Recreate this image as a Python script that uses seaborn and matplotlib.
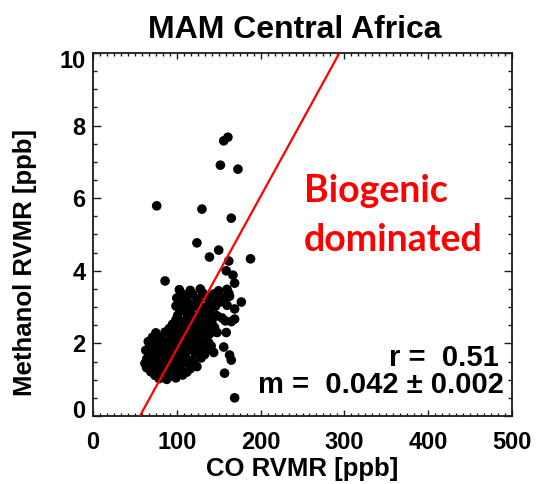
import numpy as np
import pandas as pd
import matplotlib
matplotlib.use("Agg")
import matplotlib.pyplot as plt
from matplotlib.ticker import MultipleLocator, FixedLocator
from matplotlib.transforms import ScaledTranslation
import seaborn as sns

# CO and methanol retrievals, MAM season, Central Africa
co_ppb = [
    # sparse points outside the main cloud
    161, 156, 152, 173, 76, 130, 165, 124, 150, 139, 188, 162, 86, 167, 169,
    99, 177, 169, 156, 163, 165, 157, 169, 159, 159, 154, 165, 169, 163, 152,
    148, 144, 142,
    # main cloud, bottom to top
    79, 88, 99,
    74, 85, 96, 107,
    69, 79, 90, 101, 112,
    64, 73, 84, 95, 104, 116, 124,
    62, 71, 82, 91, 101, 111, 120,
    64, 75, 86, 96, 107, 118, 129,
    67, 78, 89, 99, 110, 122, 133,
    63, 72, 83, 94, 104, 115, 126, 136,
    68, 78, 89, 100, 111, 121, 131, 141,
    66, 76, 86, 97, 108, 118, 128, 138,
    71, 81, 93, 104, 115, 125, 136,
    75, 86, 98, 109, 119, 130, 139,
    91, 102, 113, 123, 133, 145,
    95, 106, 117, 127, 138,
    99, 110, 121, 131, 142, 158,
    101, 113, 124, 135, 148,
    104, 116, 128, 140,
    108, 120, 132, 146, 160,
    103, 114, 126, 139, 151,
    100, 111, 124, 136, 148, 158,
    106, 119, 131, 144, 162,
    103, 116, 128, 150, 160,
]
methanol_ppb = [
    7.68, 7.58, 6.91, 6.80, 5.79, 5.70, 5.45, 4.77, 4.57, 4.38, 4.33, 4.27, 3.72, 3.88, 3.66,
    3.03, 3.14, 2.67, 1.90, 1.68, 1.54, 1.18, 0.50, 2.30, 4.00, 2.70, 2.60, 2.95, 3.30, 3.15,
    2.30, 1.75, 2.55,
    1.03, 1.01, 1.05,
    1.12, 1.14, 1.10, 1.13,
    1.22, 1.24, 1.20, 1.23, 1.21,
    1.33, 1.31, 1.35, 1.32, 1.34, 1.30, 1.36,
    1.45, 1.47, 1.43, 1.46, 1.44, 1.48, 1.45,
    1.57, 1.55, 1.59, 1.56, 1.58, 1.54, 1.60,
    1.69, 1.71, 1.67, 1.70, 1.68, 1.72, 1.69,
    1.81, 1.83, 1.79, 1.82, 1.80, 1.84, 1.81, 1.85,
    1.93, 1.91, 1.95, 1.92, 1.94, 1.90, 1.96, 1.93,
    2.05, 2.07, 2.03, 2.06, 2.04, 2.08, 2.05, 2.02,
    2.17, 2.15, 2.19, 2.16, 2.18, 2.14, 2.20,
    2.29, 2.31, 2.27, 2.30, 2.28, 2.32, 2.26,
    2.41, 2.39, 2.43, 2.40, 2.42, 2.44,
    2.53, 2.55, 2.51, 2.54, 2.52,
    2.65, 2.63, 2.67, 2.64, 2.66, 2.62,
    2.77, 2.79, 2.75, 2.78, 2.76,
    2.89, 2.87, 2.91, 2.88,
    3.01, 3.03, 2.99, 3.02, 3.05,
    3.13, 3.11, 3.15, 3.12, 3.14,
    3.25, 3.27, 3.23, 3.26, 3.24, 3.28,
    3.37, 3.35, 3.39, 3.36, 3.38,
    3.48, 3.46, 3.50, 3.45, 3.49,
]

# fit statistics
r_value = 0.51
slope = 0.042
slope_err = 0.002
intercept = -2.35

x_ticks = [0, 100, 200, 300, 400, 500]
y_ticks = [0, 2, 4, 6, 8, 10]

df = pd.DataFrame({"CO": co_ppb, "Methanol": methanol_ppb})

sns.set_theme(style="ticks")
plt.rcParams["font.family"] = ["Liberation Sans", "DejaVu Sans"]
plt.rcParams["font.weight"] = "bold"
for key in ("text.color", "axes.labelcolor", "xtick.color", "ytick.color"):
    plt.rcParams[key] = "black"

fig = plt.figure(figsize=(5.36, 4.84), dpi=100)
ax = fig.add_axes([93 / 536, 1 - 416 / 484, (512 - 93) / 536, (416 - 53) / 484])

sns.scatterplot(data=df, x="CO", y="Methanol", ax=ax, color="black",
                s=48, edgecolor="none", linewidth=0, legend=False, zorder=2)

ax.axline((0, intercept), slope=slope, color="#ff0000", lw=1.6, zorder=3)

ax.set_xlim(0, 500)
ax.set_ylim(0, 10)
ax.xaxis.set_major_locator(FixedLocator(x_ticks))
ax.yaxis.set_major_locator(FixedLocator(y_ticks))
ax.xaxis.set_minor_locator(MultipleLocator(100 / 12))
ax.yaxis.set_minor_locator(MultipleLocator(0.5))

for side in ax.spines.values():
    side.set_color("#1a1a1a")
    side.set_linewidth(1.3)

ax.tick_params(axis="both", which="both", direction="in", top=True, right=True,
               color="#1a1a1a", width=1.0)
ax.tick_params(axis="x", which="major", length=4.5, pad=11, labelsize=17)
ax.tick_params(axis="x", which="minor", length=2.2)
ax.tick_params(axis="y", which="major", length=6, pad=5.5, labelsize=17)
ax.tick_params(axis="y", which="minor", length=3)

ax.set_xticklabels([str(v) for v in x_ticks], fontweight="bold")
ax.set_yticklabels([str(v) for v in y_ticks], fontweight="bold")

# keep the end labels of the y axis inside the frame
yt = ax.yaxis.get_major_ticks()
yt[0].label1.set_transform(yt[0].label1.get_transform()
                           + ScaledTranslation(0, 7 / 100, fig.dpi_scale_trans))
yt[-1].label1.set_transform(yt[-1].label1.get_transform()
                            + ScaledTranslation(0, -6 / 100, fig.dpi_scale_trans))

ax.set_xlabel("CO RVMR [ppb]", fontsize=18.5, fontweight="bold")
ax.xaxis.label.set_va("center")
ax.xaxis.set_label_coords(0.5, (416 - 469) / 363)
ax.set_ylabel("Methanol RVMR [ppb]", fontsize=18.5, fontweight="bold")
ax.yaxis.label.set_va("center")
ax.yaxis.set_label_coords(-0.163, 0.424)

ax.set_title("MAM Central Africa", fontsize=23, fontweight="bold", x=0.482, pad=11)

ax.text(484, 1.38, "r =  %.2f" % r_value, ha="right", va="baseline",
        fontsize=21, fontweight="bold")
ax.text(490, 0.63, "m =  %.3f \u00b1 %.3f" % (slope, slope_err), ha="right", va="baseline",
        fontsize=21, fontweight="bold")

ax.text(252, 5.9, "Biogenic", ha="left", va="baseline", fontsize=27,
        fontweight="bold", color="#ff0000", family=["Lato", "DejaVu Sans"])
ax.text(252, 4.55, "dominated", ha="left", va="baseline", fontsize=27,
        fontweight="bold", color="#ff0000", family=["Lato", "DejaVu Sans"])

fig.savefig("out.png", dpi=100, facecolor="white")
